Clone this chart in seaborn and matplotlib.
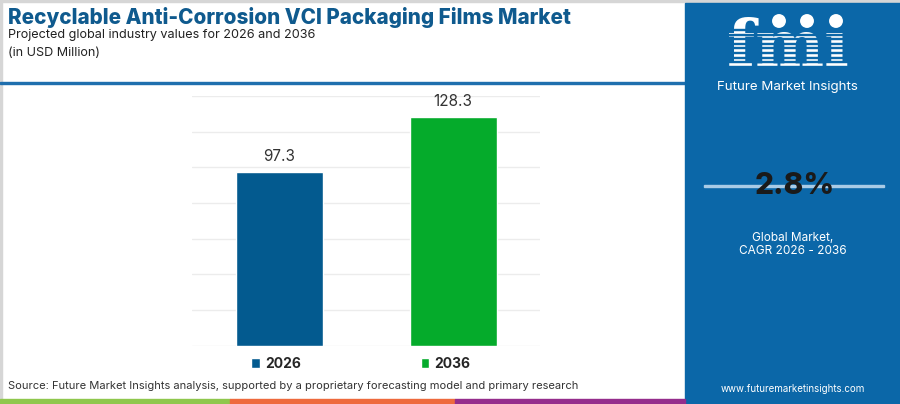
import matplotlib.pyplot as plt
import seaborn as sns
import pandas as pd
from matplotlib.patches import Rectangle, Ellipse, Patch

# chart data
years = ["2026", "2036"]
values = [97.3, 128.3]
bar_colors = ["#035a8f", "#05ab2b"]
y_ticks = [0, 20, 40, 60, 80, 100, 120, 140]
cagr_text = "2.8%"

title = "Recyclable Anti-Corrosion VCI Packaging Films Market"
subtitle = "Projected global industry values for 2026 and 2036"
unit_text = "(in USD Million)"
source = "Source: Future Market Insights analysis, supported by a proprietary forecasting model and primary research"

panel_blue = "#0b67a8"

sns.set_theme(style="white")
plt.rcParams['font.family'] = ['Inter', 'DejaVu Sans']

W, H = 900, 404
fig = plt.figure(figsize=(9, 4.04), dpi=100)
fig.patch.set_facecolor("white")


def fx(px):
    return px / W


def fy(py):
    return 1 - py / H


# frame lines and right panel
fig.patches.append(Rectangle((0, fy(2)), 1, 2 / H, transform=fig.transFigure,
                             color="#d6d6d6", zorder=0))
fig.patches.append(Rectangle((0, 0), 1.5 / W, 1, transform=fig.transFigure,
                             color="#d6d6d6", zorder=0))
fig.patches.append(Rectangle((0, fy(84)), fx(685), 2.2 / H, transform=fig.transFigure,
                             color="#1f6fae", zorder=1))
fig.patches.append(Rectangle((fx(685), 0), 1 - fx(685), fy(3), transform=fig.transFigure,
                             color=panel_blue, zorder=1))

# bottom stripe
stripe = [("#8fc74d", 0, 230), ("#ee6a3d", 230, 455), ("#952d8c", 455, 685)]
for c, x0, x1 in stripe:
    fig.patches.append(Rectangle((fx(x0), 0), fx(x1 - x0), 5.5 / H,
                                 transform=fig.transFigure, color=c, zorder=2))

# titles
fig.text(fx(8), fy(18), title, fontsize=14.9, fontweight="heavy", color="#0f5a8e",
         va="center", ha="left")
fig.text(fx(8), fy(35), subtitle, fontsize=9.1, color="#222222", va="center", ha="left")
fig.text(fx(8), fy(53), unit_text, fontsize=9.1, color="#222222", va="center", ha="left")
fig.text(fx(8), fy(386), source, fontsize=8.0, color="#333333", va="center", ha="left")

# bar chart
ax = fig.add_axes([fx(192), fy(345.7), fx(540 - 192), (345.7 - 96) / H])
df = pd.DataFrame({"year": years, "value": values})
sns.barplot(data=df, x="year", y="value", hue="year", palette=bar_colors,
            width=0.5, saturation=1, legend=False, ax=ax, zorder=3)
ax.set_xlim(-0.5, 1.5)
ax.set_ylim(0, 140)
ax.set_yticks(y_ticks)
ax.yaxis.grid(True, color="#ececec", linewidth=1)
ax.set_axisbelow(True)
for s in ax.spines.values():
    s.set_visible(False)
ax.set_xticks([])
ax.set_yticklabels([])
ax.tick_params(left=False, bottom=False)
ax.set_xlabel("")
ax.set_ylabel("")
for cont in ax.containers:
    ax.bar_label(cont, fmt="%.1f", padding=6, fontsize=11, color="#333333")

handles = [Patch(facecolor=c, label=y) for c, y in zip(bar_colors, years)]
fig.legend(handles=handles, loc="center", bbox_to_anchor=(fx(361), fy(364)), ncol=2,
           frameon=False, handlelength=0.6, handleheight=0.75, handletextpad=0.4,
           columnspacing=8.6, prop={"weight": "bold", "size": 10})

# right panel content: logo
fig.text(fx(788), fy(67), "fmi", fontsize=47, fontweight="bold", family="DejaVu Serif",
         color="white", ha="center", va="baseline", zorder=5)
for i in range(10):
    y = 30 + i * 4.6
    fig.patches.append(Rectangle((fx(716), fy(y)), fx(146), 1.0 / H, transform=fig.transFigure,
                                 color=panel_blue, zorder=6))
for cx in [779, 807, 836]:
    fig.patches.append(Ellipse((fx(cx), fy(21)), 16 / W, 16 / H, transform=fig.transFigure,
                               facecolor="white", edgecolor=panel_blue, linewidth=1.5, zorder=7))
fig.text(fx(787), fy(87), "Future Market Insights", fontsize=9.6, color="white",
         ha="center", va="center", zorder=5)

fig.patches.append(Rectangle((fx(704), fy(186.5)), fx(180), 1.5 / H, transform=fig.transFigure,
                             color="#a9cbe6", zorder=4))
fig.text(fx(795), fy(186), cagr_text, fontsize=21.5, fontweight="heavy", color="#1a1a1a",
         ha="center", va="center", zorder=5)
fig.text(fx(793), fy(238), "Global Market,", fontsize=8.5, color="white", ha="center",
         va="center", zorder=5)
fig.text(fx(793), fy(251), "CAGR 2026 - 2036", fontsize=8.5, color="white", ha="center",
         va="center", zorder=5)
fig.text(fx(793), fy(389), "www.futuremarketinsights.com", fontsize=7, color="white",
         ha="center", va="center", zorder=5)

fig.savefig("out.png", dpi=100)
